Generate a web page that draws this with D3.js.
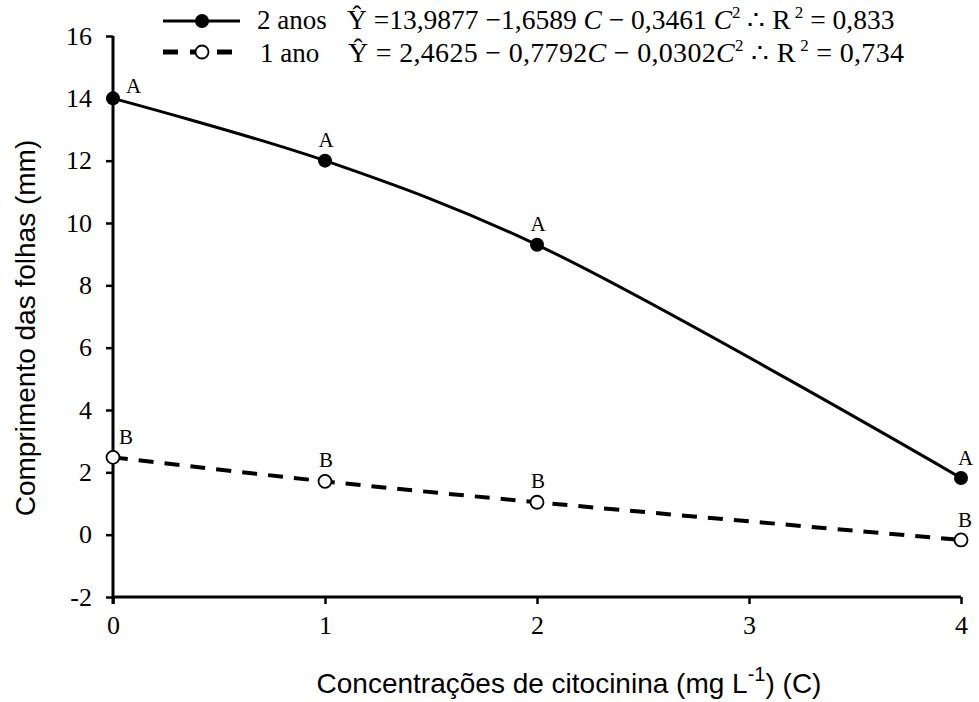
<!DOCTYPE html>
<html>
<head>
<meta charset="utf-8">
<script src="https://cdn.jsdelivr.net/npm/d3@7"></script>
<style>
  body { margin: 0; background: #fff; }
  svg { display: block; }
</style>
</head>
<body>
<div id="chart"></div>
<script>
const concentracoes = [0, 1, 2, 4];
const anos2 = [14.0, 12.0, 9.3, 1.82];
const ano1 = [2.48, 1.71, 1.04, -0.17];
const letras2 = ["A", "A", "A", "A"];
const letras1 = ["B", "B", "B", "B"];
const xTicks = [0, 1, 2, 3, 4];
const yTicks = [-2, 0, 2, 4, 6, 8, 10, 12, 14, 16];

const W = 979, H = 702;
const margin = {top: 36, right: 18, bottom: 105, left: 113};
const width = W - margin.left - margin.right
    , height = H - margin.top - margin.bottom;

const serif = "'Liberation Serif', 'Times New Roman', serif";
const sans = "'Liberation Sans', Arial, sans-serif";

const svg = d3.select("#chart").append("svg")
    .attr("width", W)
    .attr("height", H);

const g = svg.append("g")
    .attr("transform", `translate(${margin.left},${margin.top})`);

const x = d3.scaleLinear().domain([0, 4]).range([0, width]);
const y = d3.scaleLinear().domain([-2, 16]).range([height, 0]);

// axes
const xAxis = g.append("g")
    .attr("transform", `translate(0,${height})`)
    .call(d3.axisBottom(x).tickValues(xTicks).tickSize(7).tickPadding(12).tickFormat(d => String(d)));
const yAxis = g.append("g")
    .call(d3.axisLeft(y).tickValues(yTicks).tickSize(7).tickPadding(14).tickFormat(d => String(d)));

[xAxis, yAxis].forEach(a => {
    a.attr("font-family", serif).attr("font-size", 26);
    a.select(".domain").attr("stroke", "#000").attr("stroke-width", 3);
    a.selectAll(".tick line").attr("stroke", "#000").attr("stroke-width", 2.5);
    a.selectAll(".tick text").attr("fill", "#000");
});
// plain axis lines without end ticks
xAxis.select(".domain").attr("d", `M0,0H${width}`);
yAxis.select(".domain").attr("d", `M0,${height + 7}V0`);

// lines
const line = d3.line()
    .x((d, i) => x(concentracoes[i]))
    .y(d => y(d))
    .curve(d3.curveCatmullRom.alpha(0.5));

g.append("path")
    .datum(ano1)
    .attr("fill", "none")
    .attr("stroke", "#000")
    .attr("stroke-width", 4)
    .attr("stroke-dasharray", "15,11")
    .attr("d", line);

g.append("path")
    .datum(anos2)
    .attr("fill", "none")
    .attr("stroke", "#000")
    .attr("stroke-width", 3)
    .attr("d", line);

// markers
g.selectAll(".pt2").data(anos2).enter().append("circle")
    .attr("class", "pt2")
    .attr("cx", (d, i) => x(concentracoes[i]))
    .attr("cy", d => y(d))
    .attr("r", 7)
    .attr("fill", "#000");

g.selectAll(".pt1").data(ano1).enter().append("circle")
    .attr("class", "pt1")
    .attr("cx", (d, i) => x(concentracoes[i]))
    .attr("cy", d => y(d))
    .attr("r", 6.5)
    .attr("fill", "#fff")
    .attr("stroke", "#000")
    .attr("stroke-width", 1.8);

// letters: offsets for first point differ per series, middle centred, last to the right
const firstOffset = [{dx: 13, dy: -5}, {dx: 6, dy: -13}];
function letterPos(i, s) {
    if (i === 0) return {dx: firstOffset[s].dx, dy: firstOffset[s].dy, anchor: "start"};
    if (i === concentracoes.length - 1) return {dx: -3, dy: -13, anchor: "start"};
    return {dx: 1, dy: -14, anchor: "middle"};
}
[[anos2, letras2], [ano1, letras1]].forEach(([vals, labs], s) => {
    g.selectAll(null).data(vals).enter().append("text")
        .attr("x", (d, i) => x(concentracoes[i]) + letterPos(i, s).dx)
        .attr("y", (d, i) => y(d) + letterPos(i, s).dy)
        .attr("text-anchor", (d, i) => letterPos(i, s).anchor)
        .style("font-family", serif)
        .style("font-size", "21px")
        .text((d, i) => labs[i]);
});

// axis titles
svg.append("text")
    .attr("x", 569)
    .attr("y", 693)
    .attr("text-anchor", "middle")
    .style("font-family", sans)
    .style("font-size", "28px")
    .call(t => {
        t.append("tspan").text("Concentrações de citocinina (mg L");
        t.append("tspan").attr("dy", -12).style("font-size", "20px").text("-1");
        t.append("tspan").attr("dy", 12).text(") (C)");
    });

svg.append("text")
    .attr("transform", "translate(35,328) rotate(-90)")
    .attr("text-anchor", "middle")
    .style("font-family", sans)
    .style("font-size", "28px")
    .text("Comprimento das folhas (mm)");

// legend
const legend = svg.append("g");
legend.append("line").attr("x1", 163).attr("x2", 240).attr("y1", 21).attr("y2", 21)
    .attr("stroke", "#000").attr("stroke-width", 3);
legend.append("circle").attr("cx", 202).attr("cy", 21).attr("r", 7).attr("fill", "#000");
legend.append("line").attr("x1", 163).attr("x2", 240).attr("y1", 52).attr("y2", 52)
    .attr("stroke", "#000").attr("stroke-width", 5).attr("stroke-dasharray", "15,12");
legend.append("circle").attr("cx", 202).attr("cy", 52).attr("r", 6.5)
    .attr("fill", "#fff").attr("stroke", "#000").attr("stroke-width", 1.8);

legend.append("text").attr("x", 257).attr("y", 29)
    .style("font-family", serif).style("font-size", "27px").text("2 anos");
legend.append("text").attr("x", 260).attr("y", 62)
    .style("font-family", serif).style("font-size", "27px").text("1 ano");

function equation(sel, parts) {
    parts.forEach(p => {
        const ts = sel.append("tspan").text(p.t);
        if (p.i) ts.style("font-style", "italic");
        if (p.sup) ts.attr("dy", -11).style("font-size", "17px");
        if (p.down) ts.attr("dy", 11);
    });
}
const eq1 = legend.append("text").attr("x", 347).attr("y", 29)
    .style("font-family", serif).style("font-size", "27.5px");
equation(eq1, [
    {t: "Ŷ =13,9877  \u22121,6589 "}, {t: "C", i: true}, {t: " \u2212 0,3461 "}, {t: "C", i: true},
    {t: "2", sup: true}, {t: " \u2234 R", down: true}, {t: " 2", sup: true}, {t: " = 0,833", down: true}
]);
const eq2 = legend.append("text").attr("x", 348).attr("y", 62)
    .style("font-family", serif).style("font-size", "28px")
    .style("letter-spacing", "0.3px");
equation(eq2, [
    {t: "Ŷ = 2,4625 \u2212 0,7792"}, {t: "C", i: true}, {t: " \u2212 0,0302"}, {t: "C", i: true},
    {t: "2", sup: true}, {t: " \u2234 R", down: true}, {t: " 2", sup: true}, {t: " = 0,734", down: true}
]);
</script>
</body>
</html>
